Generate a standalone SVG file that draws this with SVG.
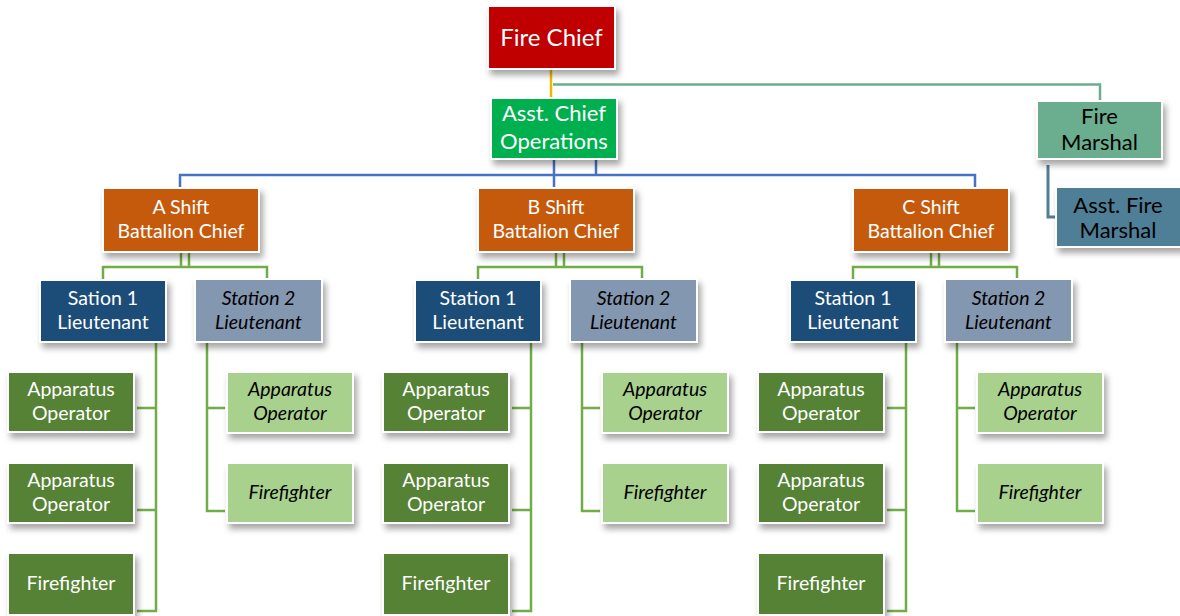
<svg xmlns="http://www.w3.org/2000/svg" width="1180" height="616" viewBox="0 0 1180 616">
<defs>
<filter id="sh" x="-20%" y="-20%" width="150%" height="160%">
<feDropShadow dx="3" dy="5" stdDeviation="3" flood-color="#000" flood-opacity="0.35"/>
</filter>
<style>
rect{stroke:#fff;stroke-width:2;filter:url(#sh)}
text{font-family:Lato,"Open Sans","Liberation Sans",sans-serif;text-anchor:middle}
.w{fill:#fff}
.k{fill:#000}
.i{font-style:italic}
.f22{font-size:24px}
.f20{font-size:22px}
.f18{font-size:19.5px}
.chief{fill:#C00000}
.asst{fill:#00B050}
.fm{fill:#6AAE8F}
.afm{fill:#4F7F96}
.bc{fill:#C55A11}
.s1{fill:#1F4E79}
.s2{fill:#8497B0}
.dg{fill:#548235}
.lg{fill:#A9D18E}
.c{fill:none;stroke-width:2.5}
.gold{stroke:#F2B800}
.teal{stroke:#6AAE8F}
.blue{stroke:#4472C4}
.steel{stroke:#4F7F96;stroke-width:3}
.grn{stroke:#70AD47}
</style>
</defs>
<rect x="0" y="0" width="1180" height="616" fill="#fff" style="stroke:none;filter:none"/>
<g id="connectors">
<path class="c gold" d="M551,69 V98"/>
<path class="c teal" d="M553,84.5 H1100 V101"/>
<path class="c steel" d="M1048,165 V217 H1056"/>
<path class="c blue" d="M554,159 V188 M596,159 V175 M180,188 V175 H975 V188"/>
<!-- A shift -->
<path class="c grn" d="M181,252 V267 M189,252 V267 M103,280 V267 H267 V280"/>
<path class="c grn" d="M156,342 V611 H137 M137,408 H156 M137,510 H156"/>
<path class="c grn" d="M207,342 V511 H225 M207,408 H225"/>
<!-- B shift -->
<path class="c grn" d="M556,252 V267 M564,252 V267 M478,280 V267 H642 V280"/>
<path class="c grn" d="M531,342 V611 H512 M512,408 H531 M512,510 H531"/>
<path class="c grn" d="M582,342 V511 H600 M582,408 H600"/>
<!-- C shift -->
<path class="c grn" d="M931,252 V267 M939,252 V267 M853,280 V267 H1017 V280"/>
<path class="c grn" d="M906,342 V611 H887 M887,408 H906 M887,510 H906"/>
<path class="c grn" d="M957,342 V511 H975 M957,408 H975"/>
</g>
<g id="fire-chief"><rect class="chief" x="488" y="6" width="127" height="63"/><text class="w f22" x="551.5" y="46">Fire Chief</text></g>
<g id="asst-chief"><rect class="asst" x="491" y="98" width="126" height="61"/><text class="w f20" x="554" y="121">Asst. Chief</text><text class="w f20" x="554" y="149">Operations</text></g>
<g id="fire-marshal"><rect class="fm" x="1037" y="101" width="125" height="58"/><text class="k f20" x="1099.5" y="124">Fire</text><text class="k f20" x="1099.5" y="150">Marshal</text></g>
<g id="asst-fire-marshal"><rect class="afm" x="1056" y="187" width="126" height="60"/><text class="k f20" x="1118" y="213">Asst. Fire</text><text class="k f20" x="1118" y="238">Marshal</text></g>

<g id="a-bc"><rect class="bc" x="103" y="188" width="156" height="64"/><text class="w f18" x="181" y="214">A Shift</text><text class="w f18" x="181" y="238">Battalion Chief</text></g>
<g id="a-st1"><rect class="s1" x="40" y="280" width="126" height="62"/><text class="w f18" x="103" y="305">Sation 1</text><text class="w f18" x="103" y="329">Lieutenant</text></g>
<g id="a-st2"><rect class="s2" x="195" y="279" width="127" height="63"/><text class="k f18 i" x="258.5" y="305">Station 2</text><text class="k f18 i" x="258.5" y="329">Lieutenant</text></g>
<g id="a-ao1"><rect class="dg" x="8" y="372" width="126" height="60"/><text class="w f18" x="71" y="396">Apparatus</text><text class="w f18" x="71" y="420">Operator</text></g>
<g id="a-ao2"><rect class="dg" x="8" y="463" width="126" height="60"/><text class="w f18" x="71" y="487">Apparatus</text><text class="w f18" x="71" y="511">Operator</text></g>
<g id="a-ff"><rect class="dg" x="8" y="553" width="126" height="62"/><text class="w f18" x="71" y="590">Firefighter</text></g>
<g id="a-s2-ao"><rect class="lg" x="227" y="372" width="126" height="61"/><text class="k f18 i" x="290" y="396">Apparatus</text><text class="k f18 i" x="290" y="420">Operator</text></g>
<g id="a-s2-ff"><rect class="lg" x="227" y="463" width="126" height="60"/><text class="k f18 i" x="290" y="499">Firefighter</text></g>

<g id="b-bc"><rect class="bc" x="478" y="188" width="156" height="64"/><text class="w f18" x="556" y="214">B Shift</text><text class="w f18" x="556" y="238">Battalion Chief</text></g>
<g id="b-st1"><rect class="s1" x="415" y="280" width="126" height="62"/><text class="w f18" x="478" y="305">Station 1</text><text class="w f18" x="478" y="329">Lieutenant</text></g>
<g id="b-st2"><rect class="s2" x="570" y="279" width="127" height="63"/><text class="k f18 i" x="633.5" y="305">Station 2</text><text class="k f18 i" x="633.5" y="329">Lieutenant</text></g>
<g id="b-ao1"><rect class="dg" x="383" y="372" width="126" height="60"/><text class="w f18" x="446" y="396">Apparatus</text><text class="w f18" x="446" y="420">Operator</text></g>
<g id="b-ao2"><rect class="dg" x="383" y="463" width="126" height="60"/><text class="w f18" x="446" y="487">Apparatus</text><text class="w f18" x="446" y="511">Operator</text></g>
<g id="b-ff"><rect class="dg" x="383" y="553" width="126" height="62"/><text class="w f18" x="446" y="590">Firefighter</text></g>
<g id="b-s2-ao"><rect class="lg" x="602" y="372" width="126" height="61"/><text class="k f18 i" x="665" y="396">Apparatus</text><text class="k f18 i" x="665" y="420">Operator</text></g>
<g id="b-s2-ff"><rect class="lg" x="602" y="463" width="126" height="60"/><text class="k f18 i" x="665" y="499">Firefighter</text></g>

<g id="c-bc"><rect class="bc" x="853" y="188" width="156" height="64"/><text class="w f18" x="931" y="214">C Shift</text><text class="w f18" x="931" y="238">Battalion Chief</text></g>
<g id="c-st1"><rect class="s1" x="790" y="280" width="126" height="62"/><text class="w f18" x="853" y="305">Station 1</text><text class="w f18" x="853" y="329">Lieutenant</text></g>
<g id="c-st2"><rect class="s2" x="945" y="279" width="127" height="63"/><text class="k f18 i" x="1008.5" y="305">Station 2</text><text class="k f18 i" x="1008.5" y="329">Lieutenant</text></g>
<g id="c-ao1"><rect class="dg" x="758" y="372" width="126" height="60"/><text class="w f18" x="821" y="396">Apparatus</text><text class="w f18" x="821" y="420">Operator</text></g>
<g id="c-ao2"><rect class="dg" x="758" y="463" width="126" height="60"/><text class="w f18" x="821" y="487">Apparatus</text><text class="w f18" x="821" y="511">Operator</text></g>
<g id="c-ff"><rect class="dg" x="758" y="553" width="126" height="62"/><text class="w f18" x="821" y="590">Firefighter</text></g>
<g id="c-s2-ao"><rect class="lg" x="977" y="372" width="126" height="61"/><text class="k f18 i" x="1040" y="396">Apparatus</text><text class="k f18 i" x="1040" y="420">Operator</text></g>
<g id="c-s2-ff"><rect class="lg" x="977" y="463" width="126" height="60"/><text class="k f18 i" x="1040" y="499">Firefighter</text></g>
</svg>
